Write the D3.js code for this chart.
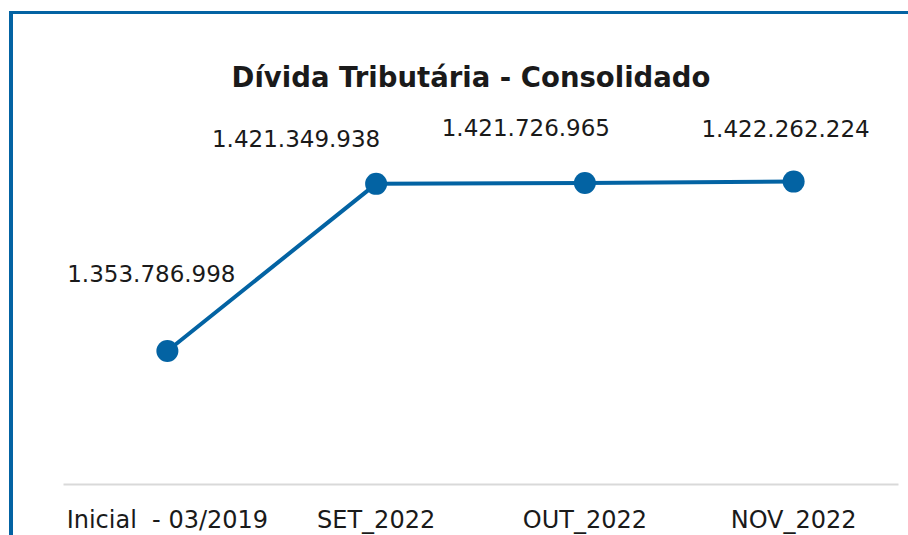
<!DOCTYPE html>
<html>
<head>
<meta charset="utf-8">
<script src="https://cdn.jsdelivr.net/npm/d3@7"></script>
<style>
  body { margin: 0; background: #fff; }
  text { font-family: "DejaVu Sans", sans-serif; fill: #1a1a1a; }
</style>
</head>
<body>
<div id="chart"></div>
<script>
// chart values
const categories = ["Inicial  - 03/2019", "SET_2022", "OUT_2022", "NOV_2022"];
const values = [1353786998, 1421349938, 1421726965, 1422262224];
const labels = ["1.353.786.998", "1.421.349.938", "1.421.726.965", "1.422.262.224"];
const title = "Dívida Tributária - Consolidado";

// manual label placement (dx, dy from point), like the original
const labelOffsets = [[-16, -69], [-80, -37], [-59, -47], [-8, -45]];

const width = 908, height = 535;
const blue = "#0363a3";

const svg = d3.select("#chart")
              .append("svg")
              .attr("width", width)
              .attr("height", height);

// frame: top and left edges
svg.append("line")
   .attr("x1", 9).attr("x2", width)
   .attr("y1", 12.5).attr("y2", 12.5)
   .attr("stroke", blue).attr("stroke-width", 3);
svg.append("line")
   .attr("x1", 11).attr("x2", 11)
   .attr("y1", 11).attr("y2", height)
   .attr("stroke", blue).attr("stroke-width", 4);

svg.append("text")
   .attr("x", 471)
   .attr("y", 87)
   .attr("text-anchor", "middle")
   .style("font-size", "27.5px")
   .style("font-weight", "bold")
   .text(title);

const x = d3.scaleBand()
            .domain(categories)
            .range([63, 898]);

const y = d3.scaleLinear()
            .domain([1.3e9, 1.45e9])
            .range([484, 113]);

// category axis
const xAxis = svg.append("g")
   .attr("transform", "translate(0,484)")
   .call(d3.axisBottom(x).tickSize(0).tickPadding(0));
xAxis.select(".domain")
     .attr("stroke", "#d9d9d9")
     .attr("stroke-width", 2);
xAxis.selectAll("text")
     .attr("dy", 0)
     .attr("y", 44)
     .attr("xml:space", "preserve")
     .style("white-space", "pre")
     .style("font-family", "\"DejaVu Sans\", sans-serif")
     .style("font-size", "24px")
     .attr("fill", "#1a1a1a");

const data = categories.map((c, i) => ({ cat: c, value: values[i], label: labels[i] }));
const cx = d => x(d.cat) + x.bandwidth() / 2;

svg.append("path")
   .datum(data)
   .attr("fill", "none")
   .attr("stroke", blue)
   .attr("stroke-width", 4)
   .attr("d", d3.line().x(cx).y(d => y(d.value)));

svg.selectAll(".dot")
   .data(data)
   .enter()
   .append("circle")
   .attr("cx", cx)
   .attr("cy", d => y(d.value))
   .attr("r", 11)
   .attr("fill", blue);

svg.selectAll(".lbl")
   .data(data)
   .enter()
   .append("text")
   .attr("x", (d, i) => cx(d) + labelOffsets[i][0])
   .attr("y", (d, i) => y(d.value) + labelOffsets[i][1])
   .attr("text-anchor", "middle")
   .style("font-size", "23px")
   .text(d => d.label);
</script>
</body>
</html>
